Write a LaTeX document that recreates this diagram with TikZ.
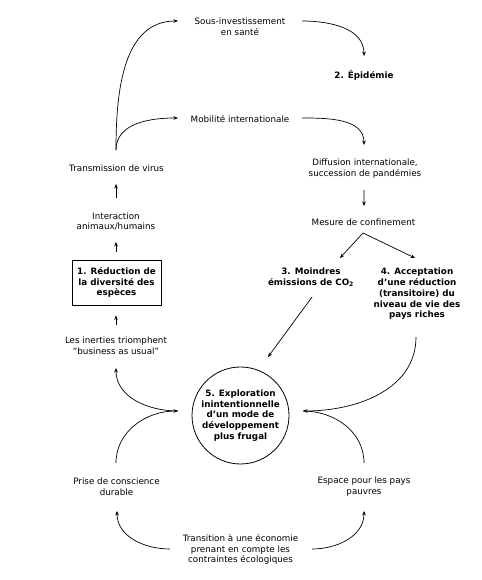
\documentclass[tikz,border=0pt]{standalone}
\usepackage{fontspec}
\setmainfont{DejaVu Sans}
\usetikzlibrary{arrows.meta,calc}
\begin{document}
\begin{tikzpicture}[x=1bp,y=1bp,
  lbl/.style={align=center,inner sep=0pt,font=\fontsize{8.8}{10.8}\selectfont},
  blbl/.style={align=center,inner sep=0pt,font=\fontsize{8.8}{10.8}\selectfont\bfseries},
  arr/.style={line width=0.7pt,-{Stealth[length=4.5pt,width=3.6pt]}},
  ln/.style={line width=0.7pt},
]
\useasboundingbox (0,0) rectangle (482,580);
% nodes
\node[lbl] (sous) at (240,553.5) {Sous-investissement\\en santé};
\node[blbl] (epid) at (364,505) {2. Épidémie};
\node[lbl] (mob) at (240,461) {Mobilité internationale};
\node[lbl] (diff) at (365,411.5) {Diffusion internationale,\\succession de pandémies};
\node[lbl] (mes) at (363.5,358) {Mesure de confinement};
\node[blbl] (m3) at (311,302.5) {3. Moindres\\émissions de CO\textsubscript{2}};
\node[blbl] (m4) at (417,286) {4. Acceptation\\d’une réduction\\(transitoire) du\\niveau de vie des\\pays riches};
\node[blbl,draw,circle,line width=0.8pt,minimum size=97bp] (circ) at (240.5,164.5) {5. Exploration\\inintentionnelle\\d’un mode de\\développement\\plus frugal};
\node[lbl] (trans) at (116.5,412) {Transmission de virus};
\node[lbl] (inter) at (116,358.5) {Interaction\\animaux/humains};
\node[blbl,draw,line width=0.9pt,minimum width=89bp,minimum height=45bp] (box1) at (116.5,297.5) {1. Réduction de\\la diversité des\\espèces};
\node[lbl] (inert) at (116,234.5) {Les inerties triomphent\\“business as usual”};
\node[lbl] (prise) at (116.5,93.5) {Prise de conscience\\durable};
\node[lbl] (espace) at (364,93.5) {Espace pour les pays\\pauvres};
\node[lbl] (transi) at (240.5,30.5) {Transition à une économie\\prenant en compte les\\contraintes écologiques};
% connectors
\draw[arr] ($(trans)+(-0.5,18)$) to[out=90,in=180] ($(sous)+(-62,5.5)$);
\draw[arr] ($(trans)+(-0.5,18)$) to[out=90,in=180] ($(mob)+(-62,1)$);
\draw[arr] ($(sous)+(62,5.5)$) to[out=0,in=90] ($(epid)+(0,19)$);
\draw[arr] ($(mob)+(62,1)$) to[out=0,in=90] ($(diff)+(-1,23.5)$);
\draw[arr] ($(diff)+(-1,-21.5)$) -- ($(mes)+(0.5,16)$);
\draw[arr] ($(mes)+(-0.5,-11)$) -- ($(m3)+(29,19.5)$);
\draw[arr] ($(mes)+(-0.5,-11)$) -- ($(m4)+(-2,36)$);
\draw[arr] ($(m3)+(1,-19.5)$) -- ($(circ)+(27.5,58.5)$);
\draw[arr] ($(m4)+(-1,-43)$) to[out=-90,in=0] ($(circ)+(62.5,4.5)$);
\draw[ln] ($(espace)+(0,23.5)$) to[out=90,in=0] ($(circ)+(62.5,4.5)$);
\draw[arr] ($(prise)+(-0.5,23.5)$) to[out=90,in=180] ($(circ)+(-62.5,4.5)$);
\draw[arr] ($(circ)+(-62.5,4.5)$) to[out=180,in=-90] ($(inert)+(0,-22.5)$);
\draw[arr] ($(transi)+(-70.5,0.5)$) to[out=180,in=-90] ($(prise)+(0.5,-24.5)$);
\draw[arr] ($(transi)+(71.5,0.5)$) to[out=0,in=-90] ($(espace)+(0,-24.5)$);
\draw[arr] ($(inter)+(0,23.5)$) -- ($(trans)+(-0.5,-16)$);
\draw[arr] ($(box1.north)+(-0.5,8)$) -- ($(inter)+(0,-20.5)$);
\draw[arr] ($(inert)+(0,20.5)$) -- ($(box1.south)+(-0.5,-10)$);
\end{tikzpicture}
\end{document}
